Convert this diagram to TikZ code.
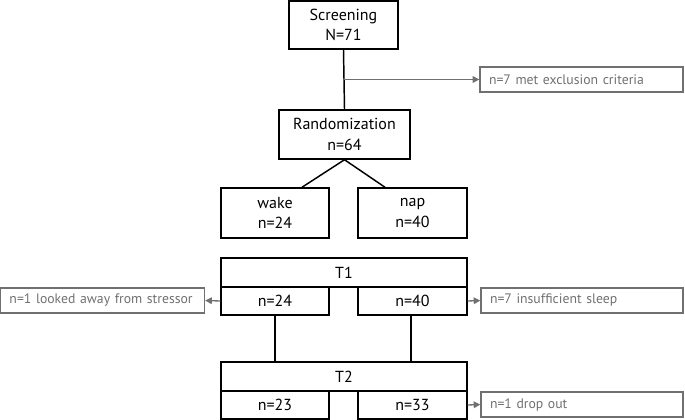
\documentclass[tikz,border=0pt]{standalone}
\usepackage{fontspec}
\setmainfont{PT Sans}
\usetikzlibrary{arrows.meta,calc}
\definecolor{greyc}{HTML}{707070}
\tikzset{
  box/.style={draw=black, line width=1.1pt, rectangle, inner sep=0pt, align=center, font=\fontsize{12}{15.5}\selectfont},
  gbox/.style={draw=greyc, line width=1pt, rectangle, inner sep=0pt, text=greyc, font=\fontsize{10.3}{12}\selectfont, minimum height=25*0.75pt},
  conn/.style={draw=black, line width=1.1pt},
  garrow/.style={draw=greyc, line width=1pt, -{Triangle[length=5pt,width=5pt]}},
}
\begin{document}
\begin{tikzpicture}[x=0.75pt,y=-0.75pt]
\useasboundingbox (0,0) rectangle (685,420);
\node[box, minimum width=109*0.75pt, minimum height=48*0.75pt] (scr) at (343.5,25) {Screening\\N=71};
\node[box, minimum width=131*0.75pt, minimum height=49*0.75pt] (rand) at (344.5,134.5) {Randomization\\n=64};
\node[gbox, minimum width=203*0.75pt, text width=185*0.75pt, align=left] (excl) at (581.5,79.5) {n=7 met exclusion criteria};
\node[box, minimum width=108*0.75pt, minimum height=50*0.75pt] (wake) at (275,213) {wake\\n=24};
\node[box, minimum width=109*0.75pt, minimum height=50*0.75pt] (nap) at (412.5,213) {nap\\n=40};
\node[box, minimum width=246*0.75pt, minimum height=29*0.75pt] (t1) at (344,272.5) {T1};
\node[box, minimum width=108*0.75pt, minimum height=28*0.75pt] (a24) at (275,301) {n=24};
\node[box, minimum width=109*0.75pt, minimum height=28*0.75pt] (a40) at (412.5,301) {n=40};
\node[gbox, minimum width=204*0.75pt, text width=186*0.75pt, align=left] (away) at (102.5,300.5) {n=1 looked away from stressor};
\node[gbox, minimum width=202*0.75pt, text width=184*0.75pt, align=left] (insuf) at (582,300.5) {n=7 insufficient sleep};
\node[box, minimum width=246*0.75pt, minimum height=29*0.75pt] (t2) at (344,376.5) {T2};
\node[box, minimum width=108*0.75pt, minimum height=28*0.75pt] (a23) at (275,405) {n=23};
\node[box, minimum width=109*0.75pt, minimum height=28*0.75pt] (a33) at (412.5,405) {n=33};
\node[gbox, minimum width=202*0.75pt, text width=184*0.75pt, align=left] (drop) at (582,404.5) {n=1 drop out};
\draw[conn] (scr.south) -- (rand.north);
\coordinate (ex) at (scr.south |- excl.west);
\draw[garrow] (ex) -- (excl.west);
\draw[conn] (rand.south) -- ($(wake.north)+(27,0)$);
\draw[conn] (rand.south) -- ($(nap.north)+(-27.5,0)$);
\draw[garrow] (a24.west) -- (away.east);
\draw[garrow] (a40.east) -- (insuf.west);
\draw[garrow] (a33.east) -- (drop.west);
\draw[conn] (a24.south) -- (a24.south |- t2.north);
\coordinate (b40) at ($(a40.south)+(-1.5,0)$);
\draw[conn] (b40) -- (b40 |- t2.north);
\end{tikzpicture}
\end{document}
